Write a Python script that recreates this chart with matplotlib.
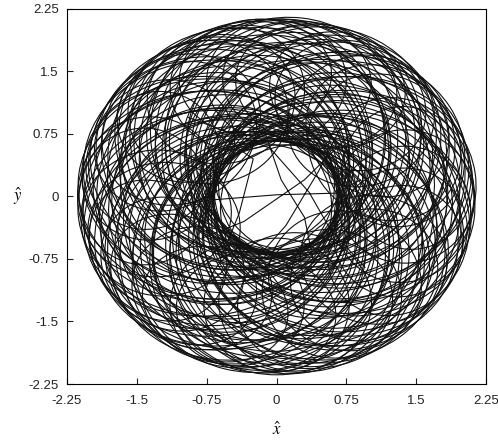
import matplotlib
matplotlib.use('Agg')
import matplotlib.pyplot as plt
from matplotlib.patches import Ellipse
from matplotlib.transforms import Affine2D

# big sweeps of the orbit around the centre:
# direction of the sweep's centre (deg), its offset from origin, its radius
big_theta = [0, 7.5, 15, 22.5, 30, 37.5, 45, 52.5, 60, 67.5, 75, 82.5, 90, 97.5, 105, 112.5,
             120, 127.5, 135, 142.5, 150, 157.5, 165, 172.5, 180, 187.5, 195, 202.5, 210, 217.5, 225, 232.5,
             240, 247.5, 255, 262.5, 270, 277.5, 285, 292.5, 300, 307.5, 315, 322.5, 330, 337.5, 345, 352.5]
big_dist = [0.72, 0.66, 0.76, 0.62, 0.70, 0.78, 0.64, 0.74, 0.68, 0.77, 0.61, 0.73, 0.69, 0.75, 0.63, 0.71,
            0.67, 0.79, 0.65, 0.73, 0.70, 0.62, 0.76, 0.68, 0.74, 0.64, 0.78, 0.69, 0.72, 0.66, 0.75, 0.61,
            0.71, 0.77, 0.63, 0.73, 0.68, 0.76, 0.65, 0.70, 0.79, 0.62, 0.74, 0.67, 0.72, 0.64, 0.77, 0.69]
big_rad = [1.34, 1.42, 1.30, 1.44, 1.38, 1.28, 1.40, 1.33, 1.41, 1.31, 1.45, 1.36, 1.37, 1.32, 1.43, 1.35,
           1.40, 1.27, 1.42, 1.34, 1.36, 1.45, 1.30, 1.39, 1.33, 1.43, 1.29, 1.38, 1.35, 1.41, 1.31, 1.46,
           1.36, 1.30, 1.44, 1.33, 1.39, 1.31, 1.42, 1.37, 1.28, 1.45, 1.32, 1.40, 1.35, 1.43, 1.29, 1.38]

# tighter sweeps filling the dark middle band
mid_theta = [3.75, 11.25, 18.75, 26.25, 33.75, 41.25, 48.75, 56.25, 63.75, 71.25, 78.75, 86.25,
             93.75, 101.25, 108.75, 116.25, 123.75, 131.25, 138.75, 146.25, 153.75, 161.25, 168.75, 176.25,
             183.75, 191.25, 198.75, 206.25, 213.75, 221.25, 228.75, 236.25, 243.75, 251.25, 258.75, 266.25,
             273.75, 281.25, 288.75, 296.25, 303.75, 311.25, 318.75, 326.25, 333.75, 341.25, 348.75, 356.25]
mid_dist = [0.58, 0.66, 0.52, 0.71, 0.61, 0.55, 0.69, 0.63, 0.50, 0.67, 0.59, 0.73, 0.56, 0.64, 0.70, 0.53,
            0.62, 0.68, 0.57, 0.74, 0.60, 0.51, 0.66, 0.63, 0.55, 0.72, 0.58, 0.65, 0.52, 0.69, 0.61, 0.57,
            0.73, 0.54, 0.64, 0.60, 0.68, 0.50, 0.66, 0.71, 0.56, 0.63, 0.59, 0.72, 0.53, 0.67, 0.62, 0.58]
mid_rad = [1.26, 1.32, 1.20, 1.38, 1.28, 1.22, 1.35, 1.30, 1.18, 1.33, 1.27, 1.40, 1.23, 1.31, 1.36, 1.21,
           1.29, 1.34, 1.24, 1.39, 1.27, 1.19, 1.32, 1.30, 1.22, 1.37, 1.25, 1.31, 1.20, 1.35, 1.28, 1.24,
           1.38, 1.21, 1.30, 1.26, 1.34, 1.18, 1.32, 1.36, 1.23, 1.29, 1.26, 1.37, 1.20, 1.33, 1.28, 1.25]

# smaller loops near the rim: centre direction (deg), centre distance,
# radial and tangential half-sizes
loop_theta = [0, 9, 18, 27, 36, 45, 54, 63, 72, 81, 90, 99, 108, 117, 126, 135, 144, 153, 162, 171,
              180, 189, 198, 207, 216, 225, 234, 243, 252, 261, 270, 279, 288, 297, 306, 315, 324, 333, 342, 351]
loop_dist = [1.38, 1.42, 1.33, 1.30, 1.34, 1.28, 1.35, 1.44, 1.38, 1.40, 1.39, 1.45, 1.36, 1.31, 1.25, 1.33, 1.29, 1.35, 1.40, 1.38,
             1.42, 1.30, 1.27, 1.43, 1.38, 1.41, 1.36, 1.45, 1.37, 1.40, 1.30, 1.28, 1.34, 1.31, 1.25, 1.33, 1.29, 1.43, 1.40, 1.37]
loop_rad = [0.74, 0.70, 0.72, 0.80, 0.74, 0.82, 0.75, 0.68, 0.72, 0.70, 0.72, 0.69, 0.74, 0.77, 0.86, 0.76, 0.79, 0.74, 0.70, 0.72,
            0.70, 0.80, 0.82, 0.70, 0.73, 0.70, 0.72, 0.66, 0.73, 0.70, 0.80, 0.83, 0.76, 0.78, 0.86, 0.75, 0.80, 0.70, 0.71, 0.73]
loop_tan = [0.80, 0.86, 0.78, 0.90, 0.82, 0.76, 0.84, 0.74, 0.88, 0.80, 0.75, 0.82, 0.72, 0.80, 0.86, 0.78, 0.90, 0.80, 0.84, 0.74,
            0.82, 0.76, 0.80, 0.88, 0.84, 0.86, 0.77, 0.81, 0.72, 0.86, 0.78, 0.82, 0.84, 0.74, 0.80, 0.83, 0.76, 0.80, 0.78, 0.82]

# passes through the central hole
chord_x = [-0.95, -0.07, 0.35, 0.58, 0.95, None, -0.85, -0.68, 0.0, 0.65, 0.9, None,
           -0.7, -0.25, -0.4, -0.6, None, 0.8, 0.3, -0.35, -0.8, None, -0.3, 0.1, 0.45, 0.7,
           None, -0.15, 0.05, 0.3, 0.4]
chord_y = [0.95, 0.58, 0.05, -0.40, -0.85, None, 0.3, -0.04, 0.02, 0.04, 0.2, None,
           0.8, 0.45, -0.2, -0.75, None, 0.75, 0.2, -0.3, -0.5, None, -0.85, -0.35, 0.3, 0.85,
           None, 0.85, 0.2, -0.25, -0.8]

ticks = [-2.25, -1.5, -0.75, 0, 0.75, 1.5, 2.25]
tick_labels = ['-2.25', '-1.5', '-0.75', '0', '0.75', '1.5', '2.25']

plt.rcParams['font.family'] = ['Liberation Sans', 'DejaVu Sans']
plt.rcParams['mathtext.fontset'] = 'stix'

fig = plt.figure(figsize=(4.98, 4.46), dpi=100)
ax = fig.add_axes([0.1345, 0.139, 0.8415, 0.841])

line_col = '#111111'
for th, d, r in zip(big_theta, big_dist, big_rad):
    ax.add_patch(Ellipse((d, 0), 2 * r * 1.05, 2 * r * 0.95, fill=False, ec=line_col, lw=0.8,
                         transform=Affine2D().rotate_deg(th) + ax.transData))

for th, d, r in zip(mid_theta, mid_dist, mid_rad):
    ax.add_patch(Ellipse((d, 0), 2 * r, 2 * r * 1.03, fill=False, ec=line_col, lw=0.8,
                         transform=Affine2D().rotate_deg(th) + ax.transData))

for th, d, a, b in zip(loop_theta, loop_dist, loop_rad, loop_tan):
    ax.add_patch(Ellipse((d, 0), 2 * a, 2 * b, fill=False, ec=line_col, lw=0.8,
                         transform=Affine2D().rotate_deg(th) + ax.transData))

xs = [float('nan') if v is None else v for v in chord_x]
ys = [float('nan') if v is None else v for v in chord_y]
ax.plot(xs, ys, color=line_col, lw=0.8)

ax.set_xlim(-2.25, 2.25)
ax.set_ylim(-2.25, 2.25)
ax.set_xticks(ticks)
ax.set_xticklabels(tick_labels)
ax.set_yticks(ticks)
ax.set_yticklabels(tick_labels)
ax.tick_params(direction='in', length=4, labelsize=9.5, pad=8, colors='#222222')
ax.tick_params(axis='y', pad=6)
for s in ax.spines.values():
    s.set_linewidth(0.8)
ax.set_xlabel(r'$\hat{x}$', fontsize=12, labelpad=10)
ax.set_ylabel(r'$\hat{y}$', fontsize=12, rotation=0, labelpad=8, va='center')

fig.savefig('out.png', dpi=100)
